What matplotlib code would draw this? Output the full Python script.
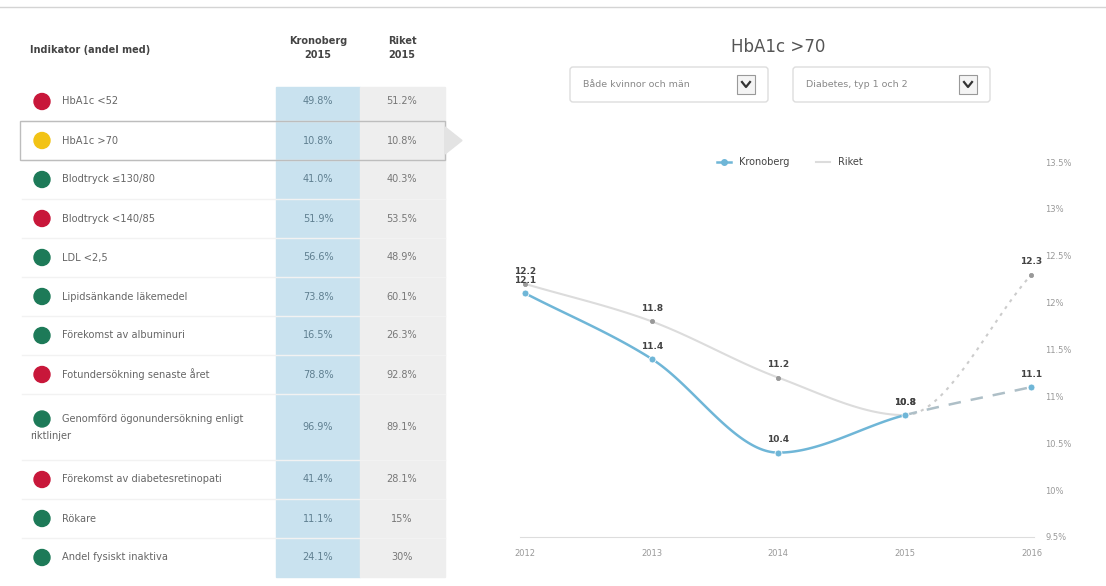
import matplotlib.pyplot as plt
import numpy as np
from matplotlib.patches import Rectangle, Polygon, FancyBboxPatch, Circle
from matplotlib.lines import Line2D

# ---- data ----
INDICATORS = [
    "HbA1c <52", "HbA1c >70", "Blodtryck \u2264130/80", "Blodtryck <140/85",
    "LDL <2,5", "Lipidsänkande läkemedel", "Förekomst av albuminuri",
    "Fotundersökning senaste året",
    "Genomförd ögonundersökning enligt\nriktlinjer",
    "Förekomst av diabetesretinopati", "Rökare", "Andel fysiskt inaktiva",
]
STATUS = ["red", "yellow", "green", "red", "green", "green", "green", "red",
          "green", "red", "green", "green"]
KRONOBERG_2015 = ["49.8%", "10.8%", "41.0%", "51.9%", "56.6%", "73.8%", "16.5%",
                  "78.8%", "96.9%", "41.4%", "11.1%", "24.1%"]
RIKET_2015 = ["51.2%", "10.8%", "40.3%", "53.5%", "48.9%", "60.1%", "26.3%",
              "92.8%", "89.1%", "28.1%", "15%", "30%"]

YEARS = [2012, 2013, 2014, 2015, 2016]
KRONOBERG = [12.1, 11.4, 10.4, 10.8, 11.1]
RIKET = [12.2, 11.8, 11.2, 10.8, 12.3]
Y_TICKS = [9.5, 10, 10.5, 11, 11.5, 12, 12.5, 13, 13.5]

STATUS_COLORS = {"red": "#c8173a", "yellow": "#f2c315", "green": "#1d7a58"}
BLUE = "#6fb6d7"
GREY_LINE = "#dcdcdc"
W, H = 1106, 586


def px(x, y, w, h):
    # pixel box (top-left origin) -> figure fraction
    return [x / W, 1 - (y + h) / H, w / W, h / H]


def smooth_segments(x, y, n=60):
    # monotone cubic hermite, one segment per interval (rendering only)
    x = np.asarray(x, float)
    y = np.asarray(y, float)
    d = np.diff(y) / np.diff(x)
    m = np.zeros_like(y)
    m[0], m[-1] = d[0], d[-1]
    for i in range(1, len(y) - 1):
        m[i] = 0.0 if d[i - 1] * d[i] <= 0 else (d[i - 1] + d[i]) / 2
    segs = []
    for i in range(len(x) - 1):
        h = x[i + 1] - x[i]
        t = np.linspace(0, 1, n)
        h00 = 2 * t**3 - 3 * t**2 + 1
        h10 = t**3 - 2 * t**2 + t
        h01 = -2 * t**3 + 3 * t**2
        h11 = t**3 - t**2
        ys = h00 * y[i] + h10 * h * m[i] + h01 * y[i + 1] + h11 * h * m[i + 1]
        segs.append((x[i] + t * h, ys))
    return segs


fig = plt.figure(figsize=(W / 100, H / 100), dpi=100)
bg = fig.add_axes([0, 0, 1, 1])
bg.set_xlim(0, W)
bg.set_ylim(H, 0)
bg.axis("off")

# top rule
bg.plot([0, W], [7, 7], color="#d4d4d4", lw=1)

# ---- table ----
bg.text(30, 50, "Indikator (andel med)", fontsize=7, fontweight="bold",
        color="#444", va="center")
bg.text(318, 48, "Kronoberg\n2015", fontsize=7, fontweight="bold", color="#444",
        ha="center", va="center", linespacing=1.6)
bg.text(402, 48, "Riket\n2015", fontsize=7, fontweight="bold", color="#444",
        ha="center", va="center", linespacing=1.6)

row_h = [66 if "\n" in s else 39 for s in INDICATORS]
top = 82
bg.add_patch(Rectangle((276, top + 5), 84, sum(row_h) - 5, color="#c9e2ef", zorder=0))
bg.add_patch(Rectangle((360, top + 5), 85, sum(row_h) - 5, color="#eeeeee", zorder=0))
y0 = top
for i, name in enumerate(INDICATORS):
    h = row_h[i]
    cy = y0 + h / 2
    if i > 0:
        bg.plot([22, 445], [y0, y0], color="#f2f2f2", lw=1, zorder=1)
    lines = name.split("\n")
    if len(lines) > 1:
        ly = cy - 8
        bg.add_patch(Circle((42, ly), 8, color=STATUS_COLORS[STATUS[i]], zorder=3))
        bg.text(62, ly, lines[0], fontsize=7.1, color="#666", va="center")
        bg.text(30, ly + 17, lines[1], fontsize=7.1, color="#666", va="center")
    else:
        bg.add_patch(Circle((42, cy), 8, color=STATUS_COLORS[STATUS[i]], zorder=3))
        bg.text(62, cy, name, fontsize=7.1, color="#666", va="center")
    bg.text(318, cy, KRONOBERG_2015[i], fontsize=7, color="#5f7f90",
            ha="center", va="center")
    bg.text(402, cy, RIKET_2015[i], fontsize=7, color="#777",
            ha="center", va="center")
    if i == 1:
        bg.add_patch(Rectangle((20, y0), 425, h, fill=False, ec="#bdbdbd",
                               lw=1, zorder=4))
        bg.add_patch(Polygon([[445, y0 + 6], [462, cy], [445, y0 + h - 6]],
                             closed=True, color="#e3e3e3", zorder=4))
    y0 += h

# ---- chart header ----
bg.text(778, 47, "HbA1c >70", fontsize=12, color="#555", ha="center", va="center")
for (bx, bw, label) in [(570, 198, "Både kvinnor och män"),
                        (793, 197, "Diabetes, typ 1 och 2")]:
    bg.add_patch(FancyBboxPatch((bx, 67), bw, 35, boxstyle="round,pad=0,rounding_size=3",
                                fc="white", ec="#dddddd", lw=1))
    bg.text(bx + 13, 84.5, label, fontsize=6.8, color="#888", va="center")
    cx = bx + bw - 22
    bg.add_patch(Rectangle((cx - 9, 75), 18, 19, fc="#f4f4f4", ec="#999", lw=0.8))
    bg.plot([cx - 4, cx, cx + 4], [82, 87, 82], color="#333", lw=1.6)

# ---- line chart ----
ax = fig.add_axes(px(520, 162, 514, 375))
ax.set_xlim(2011.96, 2016.02)
ax.set_ylim(9.5, 13.5)
for s in ["top", "left", "right"]:
    ax.spines[s].set_visible(False)
ax.spines["bottom"].set_color("#dddddd")
ax.yaxis.tick_right()
ax.set_yticks(Y_TICKS)
ax.set_yticklabels([f"{v:g}%" for v in Y_TICKS])
ax.set_xticks(YEARS)
ax.set_xticklabels([str(y) for y in YEARS])
ax.tick_params(axis="both", length=0, labelsize=6, labelcolor="#999")
ax.tick_params(axis="y", pad=8)
ax.tick_params(axis="x", pad=9)

for values, color, lw, tail_style, mk, ms, mcol in [
    (RIKET, GREY_LINE, 1.5, (0, (1.5, 2.5)), "o", 3, "#999999"),
    (KRONOBERG, BLUE, 1.8, (0, (5, 4)), "o", 5, BLUE),
]:
    segs = smooth_segments(YEARS, values)
    for j, (xs, ys) in enumerate(segs):
        style = tail_style if j == len(segs) - 1 else "-"
        c = "#aebfc7" if (style != "-" and color == BLUE) else color
        if style != "-" and color == GREY_LINE:
            c = "#cccccc"
        ax.plot(xs, ys, color=c, lw=lw, ls=style, zorder=2)
    ax.plot(YEARS, values, ls="none", marker=mk, ms=ms, color=mcol,
            mec="white" if mcol == BLUE else mcol, mew=0.6, zorder=3)
    for xv, yv in zip(YEARS, values):
        ax.annotate(f"{yv:.1f}", (xv, yv), xytext=(0, 6), textcoords="offset points",
                    ha="center", va="bottom", fontsize=6.5, color="#444",
                    fontweight="semibold", zorder=4)

handles = [Line2D([], [], color=BLUE, lw=1.8, marker="o", ms=4),
           Line2D([], [], color=GREY_LINE, lw=1.5)]
ax.legend(handles, ["Kronoberg", "Riket"], loc="center", ncol=2, frameon=False,
          fontsize=7, bbox_to_anchor=(0.525, 1.0), handlelength=1.4,
          columnspacing=2.8, labelcolor="#444")

fig.savefig("out.png", dpi=100)
